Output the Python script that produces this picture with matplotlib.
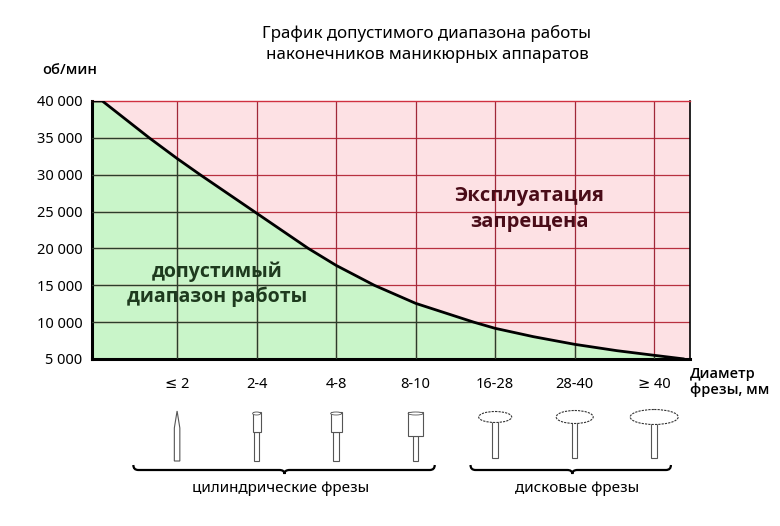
import matplotlib
matplotlib.use("Agg")
import matplotlib.pyplot as plt
from matplotlib.patches import Rectangle, Ellipse, Polygon, PathPatch
from matplotlib.path import Path
from matplotlib.ticker import FuncFormatter

plt.rcParams['font.family'] = ['Noto Sans', 'DejaVu Sans']

# data
categories = ['≤ 2', '2-4', '4-8', '8-10', '16-28', '28-40', '≥ 40']
cat_pos = list(range(len(categories)))
# curve: position along the diameter axis (category units) and rpm
curve_pos = [-1.07, -0.94, -0.35, 0.0, 0.29, 0.97, 1.65, 2.0, 2.48, 3.0, 3.73, 4.0, 4.48, 5.0, 5.53, 6.0, 6.38]
curve_rpm = [40000, 40000, 35000, 32200, 30000, 25000, 20000, 17700, 15000, 12550, 10000, 9160, 8030,
             6990, 6130, 5500, 5000]
rpm_ticks = [5000, 10000, 15000, 20000, 25000, 30000, 35000, 40000]
groups = ['цилиндрические фрезы', 'дисковые фрезы']

W, H = 780, 526
fig = plt.figure(figsize=(W / 100, H / 100), dpi=100)

# main axes: x 92..690 px, y 101..359 px
L, R, T, B = 92, 690, 101, 359
ax = fig.add_axes([L / W, 1 - B / H, (R - L) / W, (B - T) / H])
xmin, xmax = -1.07, 6.45
ax.set_xlim(xmin, xmax)
ax.set_ylim(5000, 40000)
ax.set_facecolor('#fde1e4')

green = ax.fill_between(curve_pos, curve_rpm, 5000, color='#c9f5c9', lw=0, zorder=1)

# grid: reddish on the pink part, dark on the green part
clip = Path(green.get_paths()[0].vertices)
for v in rpm_ticks[1:-1]:
    ax.axhline(v, color='#b8303f', lw=0.9, zorder=2)
    ln = ax.axhline(v, color='#2b3d2b', lw=0.9, zorder=3)
    ln.set_clip_path(clip, ax.transData)
for c in cat_pos:
    ax.axvline(c, color='#a02838', lw=0.9, zorder=2)
    ln = ax.axvline(c, color='#2b3d2b', lw=0.9, zorder=3)
    ln.set_clip_path(clip, ax.transData)

ax.plot(curve_pos, curve_rpm, color='black', lw=2.0, zorder=4,
        solid_capstyle='butt', solid_joinstyle='round')

ax.set_yticks(rpm_ticks)
ax.yaxis.set_major_formatter(FuncFormatter(lambda v, p: f"{int(v):,}".replace(',', ' ')))
ax.tick_params(axis='y', length=0, pad=7, labelsize=10.5)
ax.set_xticks([])
for s in ['left', 'bottom']:
    ax.spines[s].set_linewidth(2.2)
ax.spines['top'].set_color('#d03040')
ax.spines['top'].set_linewidth(1.0)
ax.spines['right'].set_linewidth(1.2)

bold = ['Open Sans', 'DejaVu Sans']
ax.text(0.5, 15100, 'допустимый\nдиапазон работы', ha='center', va='center', family=bold,
        fontsize=14, fontweight='bold', color='#1e3a1e', linespacing=1.3, zorder=5)
ax.text(4.43, 25350, 'Эксплуатация\nзапрещена', ha='center', va='center', family=bold,
        fontsize=14.5, fontweight='bold', color='#4a0c18', linespacing=1.42, zorder=5)

fig.text(427 / W, 1 - 33 / H, 'График допустимого диапазона работы', ha='center', va='center', fontsize=12.2)
fig.text(427 / W, 1 - 55 / H, 'наконечников маникюрных аппаратов', ha='center', va='center', fontsize=12.2)
fig.text(42 / W, 1 - 70 / H, 'об/мин', ha='left', va='center', fontsize=10.5, family=bold, fontweight='semibold')

# lower strip with tool drawings, y in pixel rows
iax = fig.add_axes([L / W, 0, (R - L) / W, (H - 362) / H])
iax.set_xlim(xmin, xmax)
iax.set_ylim(H, 362)
iax.axis('off')
ppu = (R - L) / (xmax - xmin)  # pixels per category unit

for c, lab in zip(cat_pos, categories):
    iax.text(c, 384, lab, ha='center', va='center', fontsize=10.5)
iax.text(xmax, 382, 'Диаметр\nфрезы, мм', ha='left', va='center', fontsize=10.5, family=bold,
         fontweight='semibold', linespacing=1.05, clip_on=False)

edge = '#555555'
head_w = [5, 8, 11, 15, 33, 37, 48]
for c, hw in zip(cat_pos, head_w):
    sw = 5.5 / ppu
    if c == 0:
        iax.add_patch(Polygon([(c - sw / 2, 461), (c - sw / 2, 428), (c, 411), (c + sw / 2, 428),
                               (c + sw / 2, 461)], closed=True, fc='white', ec=edge, lw=0.8))
    elif c <= 3:
        htop, hbot = 412, (436 if c == 3 else 432)
        iax.add_patch(Rectangle((c - sw / 2, hbot), sw, 461 - hbot, fc='white', ec=edge, lw=0.8))
        w = hw / ppu
        iax.add_patch(Rectangle((c - w / 2, htop), w, hbot - htop, fc='white', ec=edge, lw=0.8))
        iax.add_patch(Ellipse((c, htop + 1.5), w, 3, fc='white', ec=edge, lw=0.6))
    else:
        iax.add_patch(Rectangle((c - sw / 2, 420), sw, 38, fc='white', ec=edge, lw=0.8))
        iax.add_patch(Ellipse((c, 417), hw / ppu, 11 + (c - 4) * 2, fc='white', ec='#333333',
                              lw=0.8, ls=(0, (2, 1))))


def brace(x0, x1, xm, y=470):
    r = 5 / ppu
    verts = [(x0, y - 5), (x0, y), (x0 + r, y), (xm - r, y), (xm, y), (xm, y + 4),
             (xm, y), (xm + r, y), (x1 - r, y), (x1, y), (x1, y - 5)]
    codes = [Path.MOVETO, Path.CURVE3, Path.CURVE3, Path.LINETO, Path.CURVE3, Path.CURVE3,
             Path.CURVE3, Path.CURVE3, Path.LINETO, Path.CURVE3, Path.CURVE3]
    iax.add_patch(PathPatch(Path(verts, codes), fc='none', ec='black', lw=1.6))


brace(-0.55, 3.24, 1.35)
brace(3.69, 6.21, 4.97)
iax.text(1.3, 489, groups[0], ha='center', va='center', fontsize=11)
iax.text(5.03, 489, groups[1], ha='center', va='center', fontsize=11)

fig.savefig('out.png', dpi=100)
